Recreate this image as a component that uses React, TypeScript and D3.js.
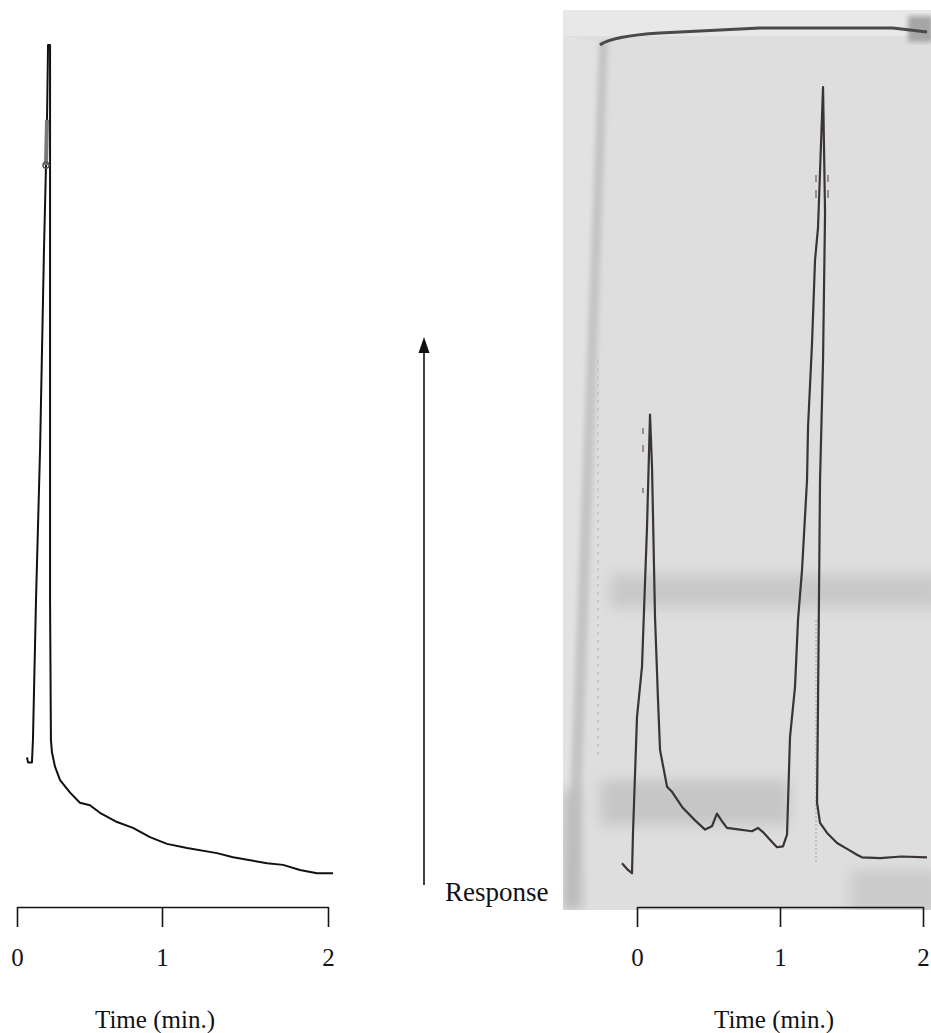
import React, { useEffect, useRef } from "react";
import * as d3 from "d3";

// ---- Data (time in min, response in arbitrary units 0-100) ----
const tickValues = [0, 1, 2];
const tickLabels = ["0", "1", "2"];

const leftTime = [0.069, 0.076, 0.103, 0.11, 0.131, 0.159, 0.186, 0.2, 0.207, 0.214, 0.228, 0.228, 0.228, 0.234, 0.241, 0.262, 0.297, 0.366, 0.434, 0.503, 0.572, 0.69, 0.8, 0.917, 1.03, 1.151, 1.331, 1.428, 1.633, 1.729, 1.831, 1.934, 2.03];
const leftResponse = [14.6, 14.0, 14.0, 16.7, 33.3, 51.2, 75.0, 85.1, 90.5, 99.4, 99.4, 69.0, 33.3, 16.7, 15.2, 13.5, 11.9, 10.4, 9.2, 8.9, 8.0, 6.9, 6.2, 5.1, 4.3, 3.8, 3.2, 2.7, 2.0, 1.8, 1.2, 0.8, 0.8];

const rightTime = [-0.105, -0.063, -0.035, -0.028, 0.0, 0.035, 0.07, 0.091, 0.105, 0.126, 0.147, 0.161, 0.21, 0.245, 0.315, 0.406, 0.476, 0.524, 0.559, 0.594, 0.629, 0.72, 0.804, 0.846, 0.881, 0.93, 0.979, 1.021, 1.049, 1.056, 1.07, 1.105, 1.126, 1.154, 1.189, 1.196, 1.224, 1.245, 1.266, 1.301, 1.315, 1.301, 1.28, 1.266, 1.259, 1.28, 1.329, 1.399, 1.469, 1.538, 1.573, 1.7, 1.85, 2.028];
const rightResponse = [2.0, 1.2, 0.8, 5.6, 19.4, 25.4, 42.0, 55.4, 49.2, 31.3, 21.4, 15.5, 11.1, 10.5, 8.7, 7.1, 6.0, 6.4, 7.9, 7.0, 6.2, 6.0, 5.8, 6.2, 5.7, 4.8, 3.9, 4.0, 5.4, 9.2, 17.0, 23.0, 31.0, 36.9, 47.6, 53.9, 63.9, 73.8, 77.7, 94.4, 79.4, 61.9, 47.6, 21.4, 9.2, 6.8, 5.6, 4.4, 3.7, 3.0, 2.7, 2.6, 2.8, 2.7];

const axisTitle = "Time (min.)";
const responseLabel = "Response";

const FONT = "'Liberation Serif', 'Times New Roman', serif";

const xLeft = d3.scaleLinear().domain(tickValues).range([17, 162, 328]);
const xRight = d3.scaleLinear().domain(tickValues).range([637, 780, 923]);
const yScale = d3.scaleLinear().domain([0, 100]).range([880, 40]);

const leftData = leftTime.map((t, i) => ({ t, v: leftResponse[i] }));
const rightData = rightTime.map((t, i) => ({ t, v: rightResponse[i] }));

function Axis({ scale, y }: { scale: d3.ScaleLinear<number, number>; y: number }) {
  const ref = useRef<SVGGElement>(null);
  useEffect(() => {
    const g = d3.select(ref.current!);
    const axis = d3
      .axisBottom(scale)
      .tickValues(tickValues)
      .tickFormat((d, i) => tickLabels[i])
      .tickSize(20)
      .tickSizeOuter(0)
      .tickPadding(21);
    g.call(axis as any);
    g.attr("font-family", FONT).attr("font-size", 25).attr("color", "#151515");
    g.selectAll("path.domain").attr("stroke-width", 1.6);
    g.selectAll(".tick line").attr("stroke-width", 1.6);
  }, [scale]);
  return <g ref={ref} transform={`translate(0,${y})`} />;
}

export default function App() {
  const lineL = d3
    .line<{ t: number; v: number }>()
    .x((d) => xLeft(d.t))
    .y((d) => yScale(d.v));
  const lineR = d3
    .line<{ t: number; v: number }>()
    .x((d) => xRight(d.t))
    .y((d) => yScale(d.v));

  return (
    <svg
      width={931}
      height={1033}
      style={{ position: "absolute", left: 0, top: 0, background: "#fff" }}
    >
      <defs>
        <filter id="blur6" x="-30%" y="-60%" width="160%" height="220%">
          <feGaussianBlur stdDeviation="7" />
        </filter>
        <filter id="blur3" x="-50%" y="-10%" width="200%" height="120%">
          <feGaussianBlur stdDeviation="2.5" />
        </filter>
        <clipPath id="card">
          <rect x={563} y={10} width={368} height={900} />
        </clipPath>
      </defs>

      {/* scanned chart paper (right panel) */}
      <rect x={563} y={10} width={368} height={900} fill="#dedede" />
      <g clipPath="url(#card)">
        <rect x={563} y={10} width={368} height={26} fill="#e8e8e8" />
        <polygon points="563,36 601,42 568,905 563,905" fill="#e2e2e2" />
        <rect x={610} y={574} width={330} height={34} fill="#c9c9c9" filter="url(#blur6)" />
        <rect x={600} y={780} width={190} height={45} fill="#c6c6c6" filter="url(#blur6)" />
        <rect x={850} y={870} width={90} height={45} fill="#cbcbcb" filter="url(#blur6)" />
        <polygon points="599,42 608,42 578,905 566,905" fill="#c4c4c4" filter="url(#blur3)" />
        <polygon points="563,790 578,790 582,910 563,910" fill="#bcbcbc" filter="url(#blur6)" />
        <rect x={908} y={16} width={25} height={26} fill="#a6a6a6" filter="url(#blur3)" />
        <path d="M600,45 Q612,36 660,33 L760,28 L893,28 L927,32" fill="none" stroke="#4a4a4a" strokeWidth={3} />
        <line x1={598} y1={360} x2={598} y2={760} stroke="#b8b8b8" strokeWidth={1} strokeDasharray="3 5" />
        <line x1={816} y1={620} x2={816} y2={862} stroke="#a0a0a0" strokeWidth={1} strokeDasharray="2 2" />
        {/* small pen marks */}
        <g stroke="#777" strokeWidth={1.5}>
          <line x1={643} y1={428} x2={643} y2={434} />
          <line x1={643} y1={445} x2={643} y2={452} />
          <line x1={643} y1={488} x2={643} y2={493} />
          <line x1={816} y1={175} x2={816} y2={182} />
          <line x1={816} y1={190} x2={816} y2={198} />
          <line x1={828} y1={175} x2={828} y2={182} />
          <line x1={828} y1={190} x2={828} y2={198} />
        </g>
        <path d={lineR(rightData) ?? ""} fill="none" stroke="#3b3436" strokeWidth={2.2} strokeLinejoin="round" />
      </g>

      {/* left trace */}
      <path d={lineL(leftData) ?? ""} fill="none" stroke="#111" strokeWidth={2} strokeLinejoin="round" />
      <line x1={xLeft(0.207)} y1={yScale(90.5)} x2={xLeft(0.2)} y2={yScale(85.1)} stroke="#777" strokeWidth={4} />
      <circle cx={xLeft(0.2)} cy={yScale(85.1)} r={3} fill="none" stroke="#555" strokeWidth={1.5} />

      {/* axes */}
      <Axis scale={xLeft} y={907} />
      <Axis scale={xRight} y={907} />

      {/* response arrow */}
      <line x1={424} y1={350} x2={424} y2={885} stroke="#111" strokeWidth={1.6} />
      <polygon points="424,337 418.5,353 429.5,353" fill="#111" />
      <text x={445} y={901} fontFamily={FONT} fontSize={27} fill="#111">
        {responseLabel}
      </text>

      {/* axis titles */}
      <text x={155} y={1028} textAnchor="middle" fontFamily={FONT} fontSize={25} fill="#111">
        {axisTitle}
      </text>
      <text x={774} y={1028} textAnchor="middle" fontFamily={FONT} fontSize={25} fill="#111">
        {axisTitle}
      </text>
    </svg>
  );
}
